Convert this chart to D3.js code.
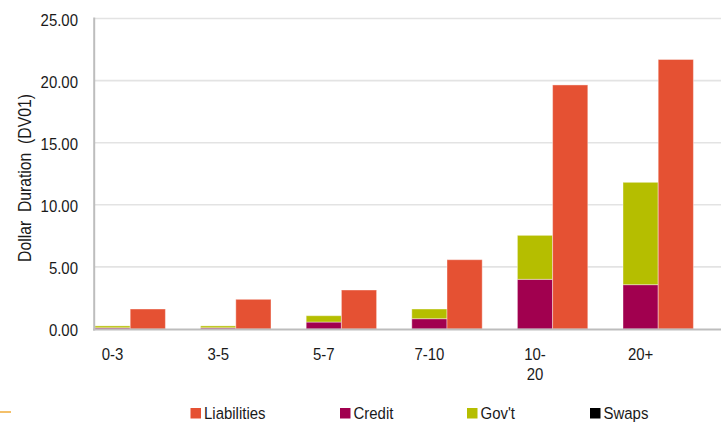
<!DOCTYPE html>
<html>
<head>
<meta charset="utf-8">
<script src="https://cdn.jsdelivr.net/npm/d3@7"></script>
<style>
  html, body { margin: 0; padding: 0; background: #fff; }
  svg { display: block; font-family: "Liberation Sans", Arial, sans-serif; }
</style>
</head>
<body>
<svg id="chart" width="721" height="422"></svg>
<script>
// Maturity buckets (x-axis)
const categories = ["0-3", "3-5", "5-7", "7-10", "10-20", "20+"];
const categoryLabels = [["0-3"], ["3-5"], ["5-7"], ["7-10"], ["10-", "20"], ["20+"]];

// Asset DV01 by bucket, stacked in one column
const credit = [0.10, 0.10, 0.56, 0.83, 4.00, 3.57];
const govt   = [0.15, 0.15, 0.51, 0.78, 3.54, 8.24];
const swaps  = [0, 0, 0, 0, 0, 0];

// Liability DV01 by bucket, drawn as a separate column
const liabilities = [1.61, 2.39, 3.14, 5.58, 19.65, 21.70];

const yTicks = [0, 5, 10, 15, 20, 25];

const legendNames = ["Liabilities", "Credit", "Gov't", "Swaps"];
const colors = {
  "Liabilities": "#E55133",
  "Credit": "#A1004F",
  "Gov't": "#B5BE00",
  "Swaps": "#000000"
};

const svg = d3.select("#chart");
const plot = { left: 95, top: 18.5, bottom: 329, right: 721 };
const TEXT = "#1a1a1a";
const FS = 17;          // label font size
const SX = 0.88;        // horizontal condensing of label text

const y = d3.scaleLinear().domain([0, 25]).range([plot.bottom, plot.top]);
const step = 105.6;
const x = d3.scaleBand().domain(categories)
  .range([plot.left, plot.left + step * categories.length]).padding(0);
const sub = d3.scaleBand().domain(["assets", "liabilities"]).range([0, step * 2 / 3]);

// Places a condensed text at (px, py)
function place(sel, px, py) {
  sel.attr("transform", function (d, i) {
    const X = typeof px === "function" ? px(d, i) : px;
    const Y = typeof py === "function" ? py(d, i) : py;
    return `translate(${X},${Y}) scale(${SX},1)`;
  });
  return sel;
}

// Gridlines
svg.append("g").selectAll("line").data(yTicks.filter(d => d > 0)).join("line")
  .attr("x1", plot.left).attr("x2", plot.right)
  .attr("y1", d => y(d)).attr("y2", d => y(d))
  .attr("stroke", "#E3E3E3").attr("stroke-width", 1.6);

// Y tick labels
place(svg.append("g").selectAll("text").data(yTicks).join("text"), 78, d => y(d) + 7)
  .attr("text-anchor", "end")
  .attr("font-size", FS).attr("fill", TEXT)
  .text(d => d3.format(".2f")(d));

// Y axis title
svg.append("text")
  .attr("transform", `translate(31,178) rotate(-90) scale(0.9,1)`)
  .attr("text-anchor", "middle")
  .attr("font-size", 17.5).attr("fill", TEXT)
  .style("white-space", "pre")
  .text("Dollar  Duration  (DV01)");

// Stacked asset columns
const stackData = categories.map((c, i) => ({ cat: c, "Credit": credit[i], "Gov't": govt[i], "Swaps": swaps[i] }));
const stacked = d3.stack().keys(["Credit", "Gov't", "Swaps"])(stackData);

const barStroke = "rgba(255,255,255,0.4)";
svg.append("g").selectAll("g").data(stacked).join("g")
  .attr("fill", s => colors[s.key])
  .selectAll("rect").data(s => s.filter(d => d[1] - d[0] > 0)).join("rect")
  .attr("x", d => x(d.data.cat) + sub("assets"))
  .attr("width", sub.bandwidth())
  .attr("y", d => y(d[1]))
  .attr("height", d => y(d[0]) - y(d[1]))
  .attr("stroke", barStroke).attr("stroke-width", 1);

// Liability columns
svg.append("g").selectAll("rect").data(categories).join("rect")
  .attr("x", c => x(c) + sub("liabilities"))
  .attr("width", sub.bandwidth())
  .attr("y", (c, i) => y(liabilities[i]))
  .attr("height", (c, i) => y(0) - y(liabilities[i]))
  .attr("fill", colors["Liabilities"])
  .attr("stroke", barStroke).attr("stroke-width", 1);

// Axis lines
svg.append("line").attr("x1", 94.2).attr("x2", 94.2).attr("y1", plot.top - 1).attr("y2", plot.bottom + 1.5)
  .attr("stroke", "#BDBDBD").attr("stroke-width", 2);
svg.append("line").attr("x1", 93).attr("x2", plot.right).attr("y1", plot.bottom + 0.5).attr("y2", plot.bottom + 0.5)
  .attr("stroke", "#BDBDBD").attr("stroke-width", 2);

// Category labels, centred under the asset column
const xl = place(svg.append("g").selectAll("text").data(categories).join("text"),
    c => x(c) + sub("assets") + sub.bandwidth() / 2, 360)
  .attr("text-anchor", "middle")
  .attr("font-size", FS).attr("fill", TEXT);
xl.selectAll("tspan").data((c, i) => categoryLabels[i]).join("tspan")
  .attr("x", 0)
  .attr("dy", (d, j) => j === 0 ? 0 : 20)
  .text(d => d);

// Legend
const legendX = [190.5, 340, 467, 590];
const lg = svg.append("g").selectAll("g").data(legendNames).join("g")
  .attr("transform", (d, i) => `translate(${legendX[i]},408)`);
lg.append("rect").attr("width", 10.5).attr("height", 10.5).attr("fill", d => colors[d]);
place(lg.append("text"), 13.5, 10.5)
  .attr("font-size", FS).attr("fill", TEXT).text(d => d);

// Accent rule at the lower left
svg.append("rect").attr("x", 0).attr("y", 411).attr("width", 11).attr("height", 2)
  .attr("fill", "#F4C06A");
</script>
</body>
</html>
